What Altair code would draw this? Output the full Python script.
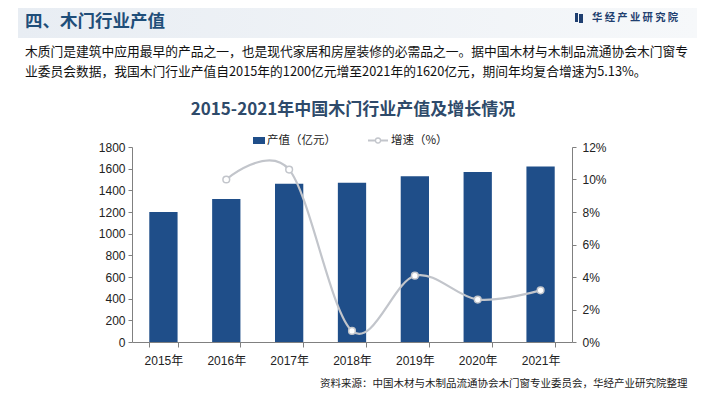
import altair as alt
import pandas as pd

# ---------------- data ----------------
years = ["2015年", "2016年", "2017年", "2018年", "2019年", "2020年", "2021年"]
output_values = [1200, 1320, 1460, 1470, 1530, 1570, 1620]          # 产值（亿元）
growth_years = ["2016年", "2017年", "2018年", "2019年", "2020年", "2021年"]
growth_rates = [10.0, 10.61, 0.68, 4.08, 2.61, 3.18]                # 增速（%）
left_ticks = [0, 200, 400, 600, 800, 1000, 1200, 1400, 1600, 1800]
right_ticks = [0, 2, 4, 6, 8, 10, 12]

header_text = "四、木门行业产值"
logo_text = "华 经 产 业 研 究 院"
desc_line1 = "木质门是建筑中应用最早的产品之一，也是现代家居和房屋装修的必需品之一。据中国木材与木制品流通协会木门窗专"
desc_line2 = "业委员会数据，我国木门行业产值自2015年的1200亿元增至2021年的1620亿元，期间年均复合增速为5.13%。"
chart_title = "2015-2021年中国木门行业产值及增长情况"
legend_bar = "产值（亿元）"
legend_line = "增速（%）"
source_text = "资料来源：中国木材与木制品流通协会木门窗专业委员会，华经产业研究院整理"

# ---------------- styling ----------------
BAR = "#1f4e89"
LINE = "#c2c5cb"
AXIS = "#808080"
FONT = "Liberation Sans, Noto Sans CJK SC"
CJK = "Noto Sans CJK SC"

df_bar = pd.DataFrame({"year": years, "value": output_values})
df_growth = pd.DataFrame({"year": growth_years, "rate": growth_rates})

x_enc = alt.X(
    "year:N",
    sort=years,
    scale=alt.Scale(domain=years, paddingInner=0.55, paddingOuter=0.275),
    axis=alt.Axis(
        title=None, labelAngle=0, labelFont=FONT, labelFontSize=12, labelColor="#222",
        labelPadding=8, domainColor=AXIS, tickColor=AXIS, tickSize=5, tickBand="extent",
    ),
)

bars = alt.Chart(df_bar).mark_bar(color=BAR).encode(
    x=x_enc,
    y=alt.Y(
        "value:Q",
        scale=alt.Scale(domain=[0, 1800], nice=False),
        axis=alt.Axis(
            title=None, values=left_ticks, format="d", grid=False, labelFont=FONT, labelFontSize=12,
            labelColor="#222", domainColor=AXIS, tickColor=AXIS, tickSize=4, labelPadding=3,
        ),
    ),
)

line = alt.Chart(df_growth).mark_line(
    interpolate="cardinal", color=LINE, strokeWidth=2.2,
    point=alt.OverlayMarkDef(filled=True, fill="white", stroke=LINE, strokeWidth=1.5, size=45),
).encode(
    x=alt.X("year:N", sort=years),
    y=alt.Y(
        "rate:Q",
        scale=alt.Scale(domain=[0, 12], nice=False),
        axis=alt.Axis(
            title=None, orient="right", values=right_ticks, grid=False,
            labelExpr="datum.value + '%'", labelFont=FONT, labelFontSize=12,
            labelColor="#222", domainColor=AXIS, tickColor=AXIS, tickSize=4, labelPadding=6,
        ),
    ),
)

main = alt.layer(bars, line).resolve_scale(y="independent")


def text_layer(txt, x, y, size, color="#111", weight="normal", align="left", font=CJK):
    return alt.Chart(pd.DataFrame({"t": [txt]})).mark_text(
        align=align, baseline="middle", fontSize=size, fontWeight=weight, color=color, font=font,
    ).encode(x=alt.value(x), y=alt.value(y), text="t:N")


one = pd.DataFrame({"k": [0]})

header_band = alt.Chart(one).mark_rect(
    fill=alt.LinearGradient(
        gradient="linear", x1=0, x2=1, y1=0, y2=0,
        stops=[alt.GradientStop(color="#e8edf3", offset=0), alt.GradientStop(color="#f6f8fa", offset=1)],
    )
).encode(x=alt.value(-114), x2=alt.value(565), y=alt.value(-139), y2=alt.value(-109))

logo_icon1 = alt.Chart(one).mark_rect(color="#1f3f70").encode(
    x=alt.value(443), x2=alt.value(446), y=alt.value(-134), y2=alt.value(-125))
logo_icon2 = alt.Chart(one).mark_rect(color="#1f3f70").encode(
    x=alt.value(447), x2=alt.value(451), y=alt.value(-133), y2=alt.value(-124))

legend_rect = alt.Chart(one).mark_rect(color=BAR).encode(
    x=alt.value(121), x2=alt.value(133), y=alt.value(-10), y2=alt.value(-3))
legend_rule = alt.Chart(one).mark_rule(color=LINE, strokeWidth=2).encode(
    x=alt.value(236), x2=alt.value(256), y=alt.value(-6.5))
legend_pt = alt.Chart(one).mark_point(
    filled=True, fill="white", stroke=LINE, strokeWidth=1.3, size=25, opacity=1
).encode(x=alt.value(246), y=alt.value(-6.5))

chart = alt.layer(
    header_band,
    logo_icon1,
    logo_icon2,
    main,
    text_layer(header_text, -107, -125, 17.5, color="#1f4e79", weight="bold"),
    text_layer(logo_text, 460, -129, 10.3, color="#1f3f70", weight="bold"),
    text_layer(desc_line1, -107, -95, 12.75),
    text_layer(desc_line2, -107, -75, 12.75),
    text_layer(chart_title, 221, -37, 17, color="#2e4a6a", weight="bold", align="center"),
    legend_rect,
    text_layer(legend_bar, 135, -6.5, 11.5, color="#222"),
    legend_rule,
    legend_pt,
    text_layer(legend_line, 259, -6.5, 11.5, color="#222"),
    text_layer(source_text, 188, 237, 10.5, color="#222"),
).properties(
    width=440,
    height=195,
    padding={"left": 124, "top": 139, "right": 125, "bottom": 50},
    autosize=alt.AutoSizeParams(type="none"),
    background="white",
).configure_view(stroke=None)

chart.save("out.html", embed_options={"renderer": "svg", "actions": False})
